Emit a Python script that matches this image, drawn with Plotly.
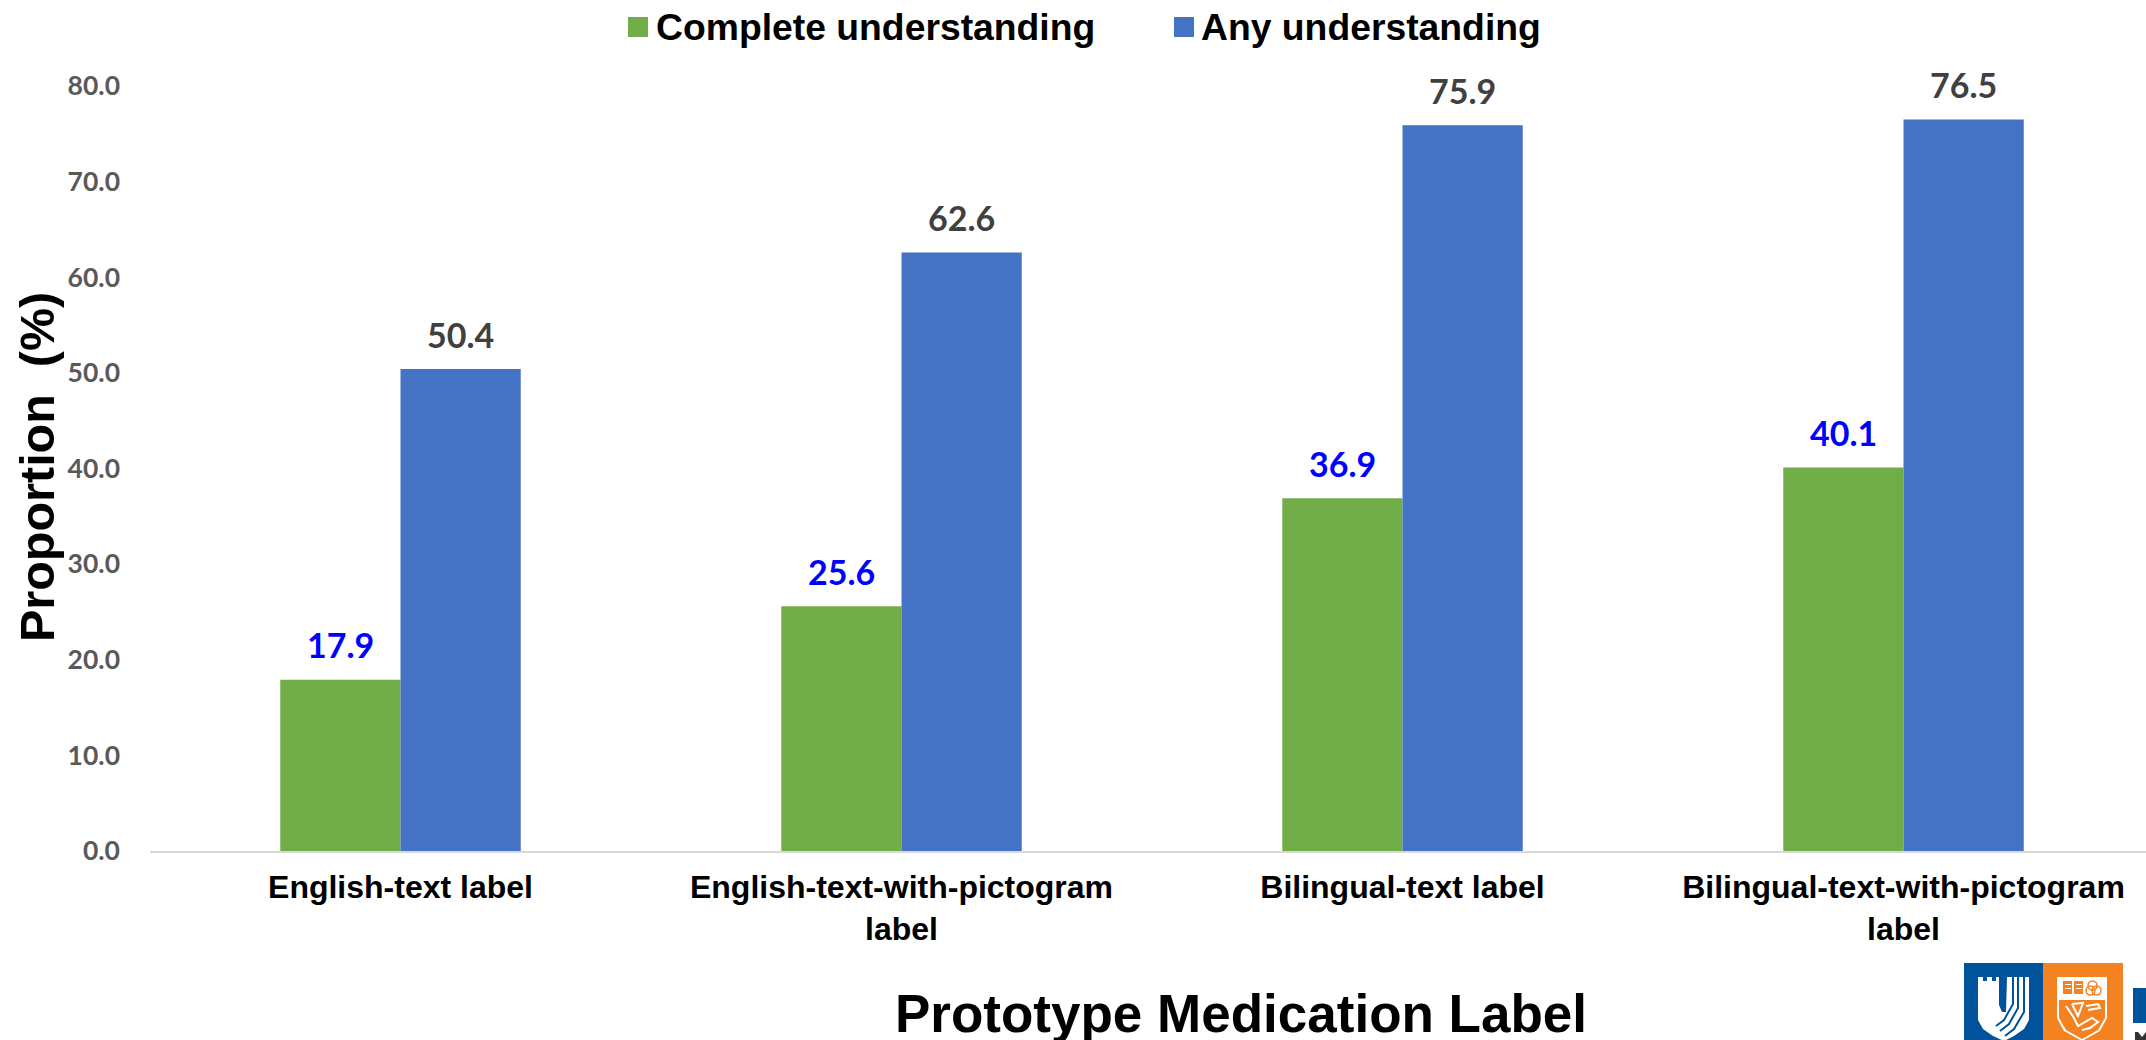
import plotly.graph_objects as go

# Survey results by prototype label
categories = [
    "English-text label",
    "English-text-with-pictogram<br>label",
    "Bilingual-text label",
    "Bilingual-text-with-pictogram<br>label",
]
complete_understanding = [17.9, 25.6, 36.9, 40.1]
any_understanding = [50.4, 62.6, 75.9, 76.5]
y_ticks = [0, 10, 20, 30, 40, 50, 60, 70, 80]
series_names = ["Complete understanding", "Any understanding"]

W, H = 2146, 1040
M_L, M_R, M_T, M_B = 150, 0, 86, 189
GREEN, BLUE = "#70AD47", "#4472C4"
DUKE_BLUE, NUS_ORANGE = "#00539B", "#F58220"
BAR_OFFSET = 0.12


def px(x):
    return (x - M_L) / (W - M_L - M_R)


def py(y):
    return 1 - (y - M_T) / (H - M_T - M_B)


def poly(points, color, close=True):
    """Filled outline in page pixels, mapped onto paper coordinates."""
    d = "M" + " L".join(f"{px(x):.5f},{py(y):.5f}" for x, y in points) + (" Z" if close else "")
    return dict(type="path", xref="paper", yref="paper", path=d,
                fillcolor=color, line=dict(width=0), layer="above")


def stroke(points, color, width):
    d = "M" + " L".join(f"{px(x):.5f},{py(y):.5f}" for x, y in points)
    return dict(type="path", xref="paper", yref="paper", path=d,
                line=dict(color=color, width=width), layer="above")


def rect(x0, y0, x1, y1, color):
    return poly([(x0, y0), (x1, y0), (x1, y1), (x0, y1)], color)


def page_text(x, y, text, size, anchor="left", angle=0):
    return dict(xref="paper", yref="paper", x=px(x), y=py(y), text=text, showarrow=False,
                xanchor=anchor, yanchor="middle", textangle=angle,
                font=dict(family="Liberation Sans", size=size, color="black", weight="bold"))


fig = go.Figure()
fig.add_bar(x=list(range(4)), y=complete_understanding, name=series_names[0],
            marker=dict(color=GREEN, line=dict(width=0)))
fig.add_bar(x=list(range(4)), y=any_understanding, name=series_names[1],
            marker=dict(color=BLUE, line=dict(width=0)))

# Value labels above each bar
annotations = []
for i, (a, b) in enumerate(zip(complete_understanding, any_understanding)):
    annotations.append(dict(x=i - BAR_OFFSET, y=a, text=f"{a:.1f}", showarrow=False, yshift=35,
                            font=dict(family="Lato", size=34, color="#0000FF", weight="bold")))
    annotations.append(dict(x=i + BAR_OFFSET, y=b, text=f"{b:.1f}", showarrow=False, yshift=35,
                            font=dict(family="Lato", size=34, color="#404040", weight="bold")))

# Key along the top and the two axis titles
annotations += [
    page_text(654, 27, series_names[0], 37.3),
    page_text(1199, 27, series_names[1], 37.3),
    page_text(1241, 1014, "Prototype Medication Label", 53, anchor="center"),
    page_text(37, 467, "Proportion  (%)", 48.5, anchor="center", angle=-90),
]

# Institutional logo in the lower right corner
shapes = [
    rect(628, 17, 648, 37, GREEN),
    rect(1174, 17, 1194, 37, BLUE),
    rect(1964, 963, 2043, 1045, DUKE_BLUE),
    rect(2043, 963, 2123, 1045, NUS_ORANGE),
    # tower shield
    poly([(1978, 977), (1983, 977), (1983, 981), (1987, 981), (1987, 977), (1992, 977), (1992, 981),
          (1996, 981), (1996, 977), (1999, 977), (1999, 1005), (2002, 1012), (2006, 1012),
          (2007, 977), (2029, 977), (2029, 1020), (2024, 1029), (2014, 1036), (2004, 1041),
          (1993, 1036), (1983, 1029), (1978, 1020)], "#FFFFFF"),
    stroke([(2013, 977), (2013, 1004), (2004, 1020), (1996, 1026)], DUKE_BLUE, 2),
    stroke([(2018, 977), (2018, 1008), (2009, 1024), (2000, 1031)], DUKE_BLUE, 2),
    stroke([(2024, 977), (2024, 1012), (2014, 1029), (2005, 1036)], DUKE_BLUE, 2),
    # crest shield
    poly([(2057, 977), (2107, 977), (2107, 1018), (2100, 1031), (2082, 1041), (2064, 1031), (2057, 1018)],
         "#FFFFFF"),
    poly([(2059, 1000), (2105, 1000), (2105, 1018), (2098, 1030), (2082, 1039), (2066, 1030), (2059, 1018)],
         NUS_ORANGE),
    rect(2063, 981, 2072, 994, NUS_ORANGE),
    rect(2074, 981, 2083, 994, NUS_ORANGE),
    rect(2065, 984, 2071, 985, "#FFFFFF"),
    rect(2065, 988, 2071, 989, "#FFFFFF"),
    rect(2076, 984, 2082, 985, "#FFFFFF"),
    rect(2076, 988, 2082, 989, "#FFFFFF"),
    dict(type="circle", xref="paper", yref="paper", x0=px(2088), x1=px(2097), y0=py(990), y1=py(981),
         line=dict(color=NUS_ORANGE, width=1.5), layer="above"),
    dict(type="circle", xref="paper", yref="paper", x0=px(2086), x1=px(2095), y0=py(995), y1=py(986),
         line=dict(color=NUS_ORANGE, width=1.5), layer="above"),
    dict(type="circle", xref="paper", yref="paper", x0=px(2092), x1=px(2101), y0=py(995), y1=py(986),
         line=dict(color=NUS_ORANGE, width=1.5), layer="above"),
    # lion
    stroke([(2066, 1006), (2074, 1018), (2078, 1026), (2092, 1018), (2098, 1022), (2090, 1028), (2082, 1030)],
           "#FFFFFF", 2),
    stroke([(2072, 1004), (2078, 1016), (2083, 1003), (2072, 1004)], "#FFFFFF", 2),
    stroke([(2086, 1006), (2098, 1004), (2100, 1008), (2088, 1010)], "#FFFFFF", 2),
    # wordmark cut by the page edge
    rect(2133, 988, 2150, 1023, DUKE_BLUE),
    poly([(2135, 1040), (2135, 1032), (2138, 1032), (2142, 1037), (2146, 1032), (2146, 1040)], "#333333"),
]

fig.update_layout(
    width=W, height=H,
    margin=dict(l=M_L, r=M_R, t=M_T, b=M_B, pad=0, autoexpand=False),
    paper_bgcolor="white", plot_bgcolor="white",
    barmode="group", bargap=0.52, bargroupgap=0,
    font=dict(family="Liberation Sans", color="black"),
    annotations=annotations,
    shapes=shapes,
    showlegend=False,
    xaxis=dict(
        range=[-0.5, 3.484], tickmode="array", tickvals=list(range(4)), ticktext=categories,
        showgrid=False, zeroline=False, showline=True, linecolor="#D9D9D9", linewidth=2, ticks="",
        ticklabelstandoff=7,
        tickfont=dict(family="Liberation Sans", size=32, color="black", weight="bold"),
        automargin=False,
    ),
    yaxis=dict(
        range=[0, 80], tickmode="array", tickvals=y_ticks, ticktext=[f"{v:.1f}" for v in y_ticks],
        showgrid=False, zeroline=False, showline=False, ticks="", ticklabelstandoff=29,
        tickfont=dict(family="Lato", size=26.5, color="#595959", weight="bold"),
        automargin=False,
    ),
)

fig.write_html("out.html")
